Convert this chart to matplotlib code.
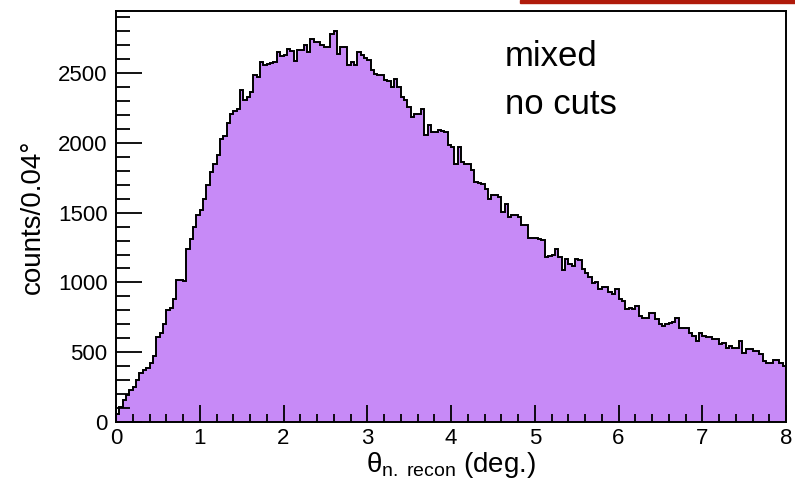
import numpy as np
import matplotlib
matplotlib.use('Agg')
import matplotlib.pyplot as plt
from matplotlib.patches import Rectangle
from matplotlib.ticker import MultipleLocator

plt.rcParams['font.family'] = ['Liberation Sans', 'DejaVu Sans']
plt.rcParams['mathtext.fontset'] = 'custom'
plt.rcParams['mathtext.rm'] = 'Liberation Sans'
plt.rcParams['mathtext.it'] = 'Liberation Sans'

# counts per 0.04 deg bin, theta from 0 to 8 deg (200 bins)
bin_lo, bin_hi, n_bins = 0.0, 8.0, 200
counts = [
    60, 110, 160, 190, 230,
    250, 300, 350, 370, 390,
    420, 470, 610, 640, 700,
    800, 820, 885, 1020, 1015,
    1010, 1240, 1310, 1400, 1485,
    1520, 1600, 1700, 1790, 1850,
    1915, 2030, 2050, 2140, 2205,
    2230, 2240, 2380, 2310, 2330,
    2365, 2490, 2470, 2580, 2560,
    2565, 2575, 2580, 2650, 2625,
    2630, 2670, 2660, 2590, 2665,
    2665, 2700, 2650, 2745, 2720,
    2720, 2705, 2690, 2685, 2780,
    2805, 2640, 2690, 2685, 2555,
    2580, 2555, 2650, 2630, 2610,
    2595, 2520, 2495, 2490, 2485,
    2450, 2445, 2400, 2455, 2400,
    2330, 2310, 2255, 2185, 2210,
    2205, 2240, 2055, 2130, 2080,
    2080, 2090, 2085, 2075, 1985,
    1970, 1850, 1970, 1865, 1850,
    1850, 1805, 1720, 1710, 1705,
    1670, 1600, 1630, 1625, 1615,
    1505, 1560, 1470, 1485, 1485,
    1470, 1415, 1410, 1315, 1315,
    1315, 1310, 1305, 1185, 1190,
    1200, 1240, 1185, 1090, 1170,
    1130, 1115, 1165, 1160, 1095,
    1065, 1040, 995, 1005, 950,
    970, 970, 935, 920, 950,
    880, 865, 810, 815, 808,
    828, 758, 745, 745, 780,
    778, 735, 705, 685, 700,
    707, 720, 743, 672, 671,
    671, 635, 614, 578, 635,
    614, 610, 607, 593, 593,
    557, 564, 528, 543, 528,
    528, 578, 493, 521, 520,
    507, 507, 486, 436, 421,
    421, 443, 443, 421, 400,
]
label_x = r'$\theta_{\mathrm{n.\ recon}}$ (deg.)'
label_y = 'counts/0.04°'
notes = ['mixed', 'no cuts']

edges = np.linspace(bin_lo, bin_hi, n_bins + 1)

fig = plt.figure(figsize=(7.95, 4.84), dpi=100)
ax = fig.add_axes([116 / 795, 1 - 422 / 484, 670 / 795, 411 / 484])

ax.stairs(counts, edges, fill=True, color='#c78af7', zorder=1)
ax.stairs(counts, edges, color='black', linewidth=1.4, zorder=2)

ax.set_xlim(bin_lo, bin_hi)
ax.set_ylim(0, max(counts) * 1.05)

ax.xaxis.set_major_locator(MultipleLocator(1))
ax.xaxis.set_minor_locator(MultipleLocator(0.2))
ax.yaxis.set_major_locator(MultipleLocator(500))
ax.yaxis.set_minor_locator(MultipleLocator(100))
ax.tick_params(which='both', direction='in', labelsize=16, width=1.3)
ax.tick_params(axis='x', which='major', length=12, pad=4)
ax.tick_params(axis='x', which='minor', length=6)
ax.tick_params(axis='y', which='major', length=19, pad=6)
ax.tick_params(axis='y', which='minor', length=10)
for s in ax.spines.values():
    s.set_linewidth(1.4)

ax.set_xlabel(label_x, fontsize=20, labelpad=1)
ax.set_ylabel(label_y, fontsize=20, labelpad=9)

ax.text(0.580, 0.865, notes[0], transform=ax.transAxes, fontsize=25)
ax.text(0.580, 0.75, notes[1], transform=ax.transAxes, fontsize=25)

fig.patches.append(Rectangle((520 / 795, 1 - 3 / 484), 275 / 795, 3 / 484,
                             transform=fig.transFigure, color='#b01a0a'))

fig.savefig('out.png', dpi=100)
